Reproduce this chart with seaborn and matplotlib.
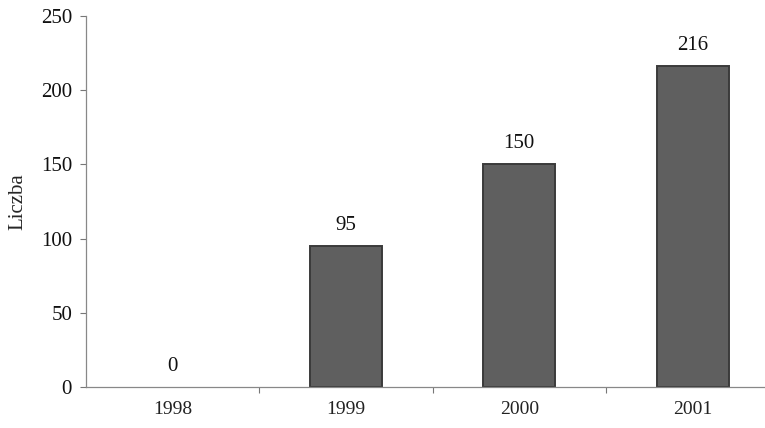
import matplotlib
matplotlib.use("Agg")
import matplotlib.pyplot as plt
import seaborn as sns
import pandas as pd

years = ["1998", "1999", "2000", "2001"]
counts = [0, 95, 150, 216]
y_ticks = [0, 50, 100, 150, 200, 250]

sns.set_style("white")
plt.rcParams["font.family"] = ["Liberation Serif", "DejaVu Serif"]
plt.rcParams["font.size"] = 15

df = pd.DataFrame({"rok": years, "liczba": counts})

fig = plt.figure(figsize=(7.65, 4.28), dpi=100)
ax = fig.add_axes([0.1124, 0.0958, 0.8876, 0.8668])

sns.barplot(data=df, x="rok", y="liczba", ax=ax, width=0.415,
            color="#5f5f5f", saturation=1, edgecolor="#3a3a3a", linewidth=1.4)

# an empty year leaves no visible bar, only its value label
for patch, v in zip(ax.patches, counts):
    if v == 0:
        patch.set_visible(False)

for i, v in enumerate(counts):
    ax.annotate(str(v), (i, v), xytext=(0, 8), textcoords="offset points",
                ha="center", va="bottom", fontsize=15, color="#111111")

ax.set_xlim(-0.5, 3.418)
ax.set_ylim(0, 250)
ax.set_yticks(y_ticks)
ax.set_xlabel("")
ax.set_ylabel("Liczba", fontsize=15, labelpad=10)

ax.set_xticks([0.5, 1.5, 2.5], minor=True)
ax.tick_params(axis="x", which="major", bottom=True, length=0, pad=10,
               labelsize=14, colors="#222222")
ax.tick_params(axis="x", which="minor", bottom=True, length=4, width=0.8,
               direction="out", color="#777777")
ax.tick_params(axis="y", which="major", left=True, length=4, width=0.8,
               direction="out", pad=6, labelsize=15, color="#777777",
               labelcolor="#111111")

for side in ("top", "right"):
    ax.spines[side].set_visible(False)
for side in ("left", "bottom"):
    ax.spines[side].set_color("#888888")
    ax.spines[side].set_linewidth(0.9)

fig.savefig("out.png", dpi=100, facecolor="white")
